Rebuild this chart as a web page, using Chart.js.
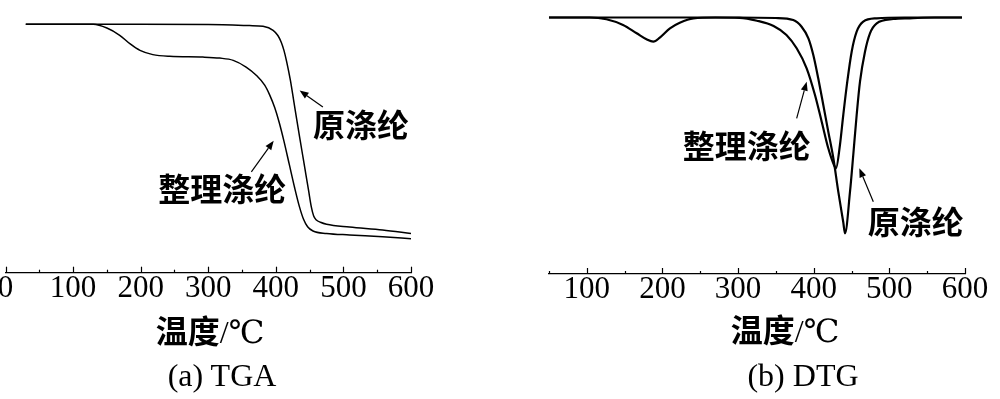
<!DOCTYPE html>
<html>
<head>
<meta charset="utf-8">
<script src="https://cdn.jsdelivr.net/npm/chart.js@4.4.1/dist/chart.umd.min.js"></script>
<style>
  html, body { margin: 0; padding: 0; background: #fff; }
  #page { position: relative; width: 1000px; height: 399px; overflow: hidden; background: #fff; }
  canvas { position: absolute; top: 0; }
  .cap { position: absolute; transform: translate(-50%, -50%); white-space: nowrap; color: #000;
         font-family: "Liberation Serif", "DejaVu Serif", "Noto Sans CJK SC", serif; }
  .cn { font-family: "Noto Sans CJK SC", sans-serif; font-weight: bold; }
</style>
</head>
<body>
<div id="page">
  <canvas id="tga" width="520" height="320" style="left:-50px;width:520px;height:320px"></canvas>
  <canvas id="dtg" width="520" height="320" style="left:500px;width:520px;height:320px"></canvas>
  <div class="cap" style="left:210px;top:329px;font-size:32px"><span class="cn">温度</span>/℃</div>
  <div class="cap" style="left:785px;top:328px;font-size:32px"><span class="cn">温度</span>/℃</div>
  <div class="cap" style="left:222px;top:375px;font-size:32px">(a) TGA</div>
  <div class="cap" style="left:803px;top:375px;font-size:32px">(b) DTG</div>
</div>
<script>
// (a) TGA, temperature (°C) / remaining mass (%)
const tgaRawT = [30, 100, 200, 300, 361, 381, 396, 403, 408, 412, 416, 421.5, 426.3, 431.2, 436.2, 440.5, 444.5, 448.5, 452.5, 456, 460, 466, 475, 509, 558, 600];
const tgaRawW = [100, 100, 100, 99.9, 99.5, 99.2, 97.6, 95.5, 92.8, 89.5, 85, 77.5, 69.5, 61.2, 53, 46, 39.5, 33, 26.5, 22.8, 21.2, 20.3, 19.5, 18.4, 17.2, 15.8];
const tgaTreatT = [30, 130, 150, 169, 184, 199, 218, 243, 292, 317, 337, 356, 371, 383.5, 391, 398.3, 405, 412, 420, 428, 435, 441, 447, 455, 475, 509, 558, 600];
const tgaTreatW = [100, 100, 98.5, 95.6, 92.2, 89.5, 87.8, 87.1, 86.8, 86.4, 85.5, 82.8, 79.5, 75.5, 71.5, 66.5, 60.5, 53, 43.5, 34, 26.5, 21.5, 18.5, 16.8, 15.8, 15.2, 14.5, 13.7];

// (b) DTG, temperature (°C) / mass loss rate (arb.)
const dtgRawT = [50, 100, 150, 200, 250, 300, 350, 373, 384, 393, 399.5, 406, 412.7, 419.3, 426, 432.5, 439, 441.4, 448, 452.3, 456.8, 461.2, 467.8, 474.4, 483.3, 505, 527, 560, 596];
const dtgRawV = [0, 0, 0, 0, 0, 0, -0.05, -0.25, -0.92, -2.08, -3.75, -6.08, -8.75, -11.42, -14.08, -17.42, -20.42, -21.58, -17.42, -13.75, -9.75, -6.42, -3.42, -1.58, -0.58, -0.15, -0.08, 0, 0];
const dtgTreatT = [50, 104, 126, 148, 166, 179, 188, 197, 210, 223, 241, 270, 302, 325, 347, 364, 377.5, 390.7, 401.7, 410.6, 419.3, 426.8, 429.5, 434.7, 439.1, 444.4, 450.2, 456.8, 465.5, 483.3, 520, 560, 596];
const dtgTreatV = [0, 0, -0.18, -0.75, -1.58, -2.18, -2.42, -1.98, -1.08, -0.52, -0.08, 0, -0.03, -0.32, -0.85, -1.75, -3.08, -5.08, -7.75, -10.42, -13.08, -14.75, -15.08, -12.75, -9.75, -6.42, -3.42, -1.42, -0.42, -0.08, 0, 0, 0];

const tgaTicks = [0, 100, 200, 300, 400, 500, 600];
const dtgTicks = [100, 200, 300, 400, 500, 600];

const rawName = '原涤纶';
const treatName = '整理涤纶';

// labels and arrows, in data units
const tgaLabels = [[rawName, 526, 59.4], [treatName, 320.7, 33.6]];
const tgaArrows = [[469.6, 66.7, 435.2, 73.4], [363.8, 40.6, 396.8, 53.1]];
const dtgLabels = [[treatName, 311.4, -12.85], [rawName, 534.9, -20.45]];
const dtgArrows = [[377.5, -10.08, 390.7, -6.42], [478.8, -18.42, 460.3, -15.08]];

const toPoints = (xs, ys) => xs.map((x, i) => ({ x: x, y: ys[i] }));

// axis ticks pointing up into the plot, minor every 50
const axisTicks = {
  id: 'axisTicks',
  afterDraw(chart) {
    const sx = chart.scales.x, ctx = chart.ctx, y0 = chart.chartArea.bottom;
    ctx.save();
    ctx.strokeStyle = '#000';
    ctx.lineWidth = 1.2;
    for (let v = Math.ceil(sx.min / 50) * 50; v <= sx.max; v += 50) {
      const px = Math.round(sx.getPixelForValue(v)) + 0.5;
      const len = v % 100 === 0 ? 6 : 3;
      ctx.beginPath();
      ctx.moveTo(px, y0);
      ctx.lineTo(px, y0 - len);
      ctx.stroke();
    }
    ctx.restore();
  }
};

const notes = {
  id: 'notes',
  afterDatasetsDraw(chart, args, opts) {
    const sx = chart.scales.x, sy = chart.scales.y, ctx = chart.ctx;
    ctx.save();
    ctx.fillStyle = '#000';
    ctx.strokeStyle = '#000';
    ctx.font = 'bold 32px "Noto Sans CJK SC"';
    ctx.textAlign = 'center';
    ctx.textBaseline = 'middle';
    opts.labels.forEach(l => {
      ctx.fillText(l[0], sx.getPixelForValue(l[1]), sy.getPixelForValue(l[2]));
    });
    ctx.lineWidth = 1.2;
    opts.arrows.forEach(a => {
      const x1 = sx.getPixelForValue(a[0]), y1 = sy.getPixelForValue(a[1]);
      const x2 = sx.getPixelForValue(a[2]), y2 = sy.getPixelForValue(a[3]);
      const ang = Math.atan2(y2 - y1, x2 - x1);
      const hl = 9, hw = 3.5;
      const bx = x2 - hl * Math.cos(ang), by = y2 - hl * Math.sin(ang);
      ctx.beginPath();
      ctx.moveTo(x1, y1);
      ctx.lineTo(bx, by);
      ctx.stroke();
      ctx.beginPath();
      ctx.moveTo(x2, y2);
      ctx.lineTo(bx + hw * Math.sin(ang), by - hw * Math.cos(ang));
      ctx.lineTo(bx - hw * Math.sin(ang), by + hw * Math.cos(ang));
      ctx.closePath();
      ctx.fill();
    });
    ctx.restore();
  }
};

function makeChart(id, sets, xMin, xMax, ticks, yMin, yMax, pad, lw, labels, arrows) {
  return new Chart(document.getElementById(id), {
    type: 'line',
    data: {
      datasets: sets.map(s => ({
        label: s[0],
        data: toPoints(s[1], s[2]),
        borderColor: '#000',
        borderWidth: lw,
        pointRadius: 0,
        fill: false,
        cubicInterpolationMode: 'monotone'
      }))
    },
    options: {
      responsive: false,
      animation: false,
      layout: { padding: pad },
      plugins: {
        legend: { display: false },
        tooltip: { enabled: false },
        notes: { labels: labels, arrows: arrows }
      },
      scales: {
        x: {
          type: 'linear',
          min: xMin,
          max: xMax,
          afterBuildTicks: sc => { sc.ticks = ticks.map(v => ({ value: v })); },
          grid: { display: true, drawOnChartArea: false, drawTicks: false },
          border: { display: true, color: '#000', width: 1.3 },
          ticks: {
            color: '#000',
            padding: 0,
            maxRotation: 0,
            autoSkip: false,
            font: { family: 'Liberation Serif', size: 31, lineHeight: 1.05 }
          }
        },
        y: { display: false, min: yMin, max: yMax }
      }
    },
    plugins: [axisTicks, notes]
  });
}

makeChart('tga',
  [[rawName, tgaRawT, tgaRawW], [treatName, tgaTreatT, tgaTreatW]],
  0, 600, tgaTicks, 0, 104,
  { left: 55.5, right: 59, top: 14.4, bottom: 14.75 }, 1.5, tgaLabels, tgaArrows);

makeChart('dtg',
  [[rawName, dtgRawT, dtgRawV], [treatName, dtgTreatT, dtgTreatV]],
  50, 600, dtgTicks, -25.65, 1.0,
  { left: 48.9, right: 55, top: 7.5, bottom: 13.45 }, 2.2, dtgLabels, dtgArrows);
</script>
</body>
</html>
